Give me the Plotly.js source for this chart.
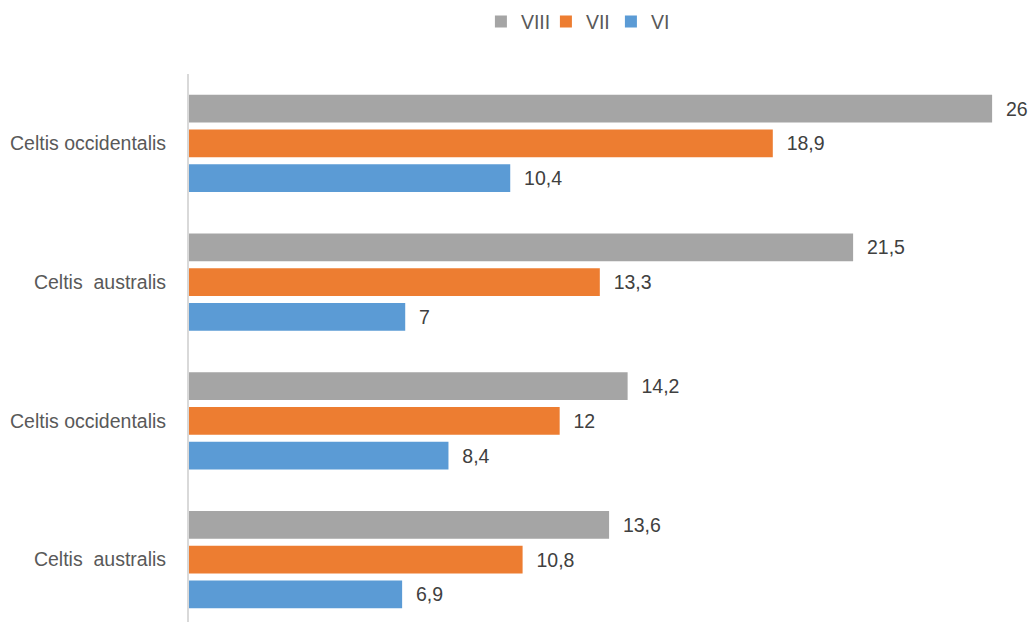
<!DOCTYPE html>
<html>
<head>
<meta charset="utf-8">
<script src="https://cdn.plot.ly/plotly-3.0.1.min.js"></script>
<style>
html,body{margin:0;padding:0;background:#fff;overflow:hidden;}
#chart{width:1032px;height:622px;}
</style>
</head>
<body>
<div id="chart"></div>
<script>
const categories = ["Celtis occidentalis", "Celtis  australis", "Celtis occidentalis", "Celtis  australis"];
const seriesNames = ["VIII", "VII", "VI"];
const valuesVIII = [26, 21.5, 14.2, 13.6];
const valuesVII = [18.9, 13.3, 12, 10.8];
const valuesVI = [10.4, 7, 8.4, 6.9];
const colors = ["#a5a5a5", "#ed7d31", "#5b9bd5"];

const FONT = '"Liberation Sans", Arial, sans-serif';
const FS = 19.5;
const positions = categories.map((c, i) => i);
const fmt = v => '\u00a0\u00a0' + String(v).replace('.', ',');

const allValues = [valuesVIII, valuesVII, valuesVI];
const traces = allValues.map((vals, k) => ({
  type: 'bar',
  orientation: 'h',
  name: seriesNames[k],
  x: vals,
  y: positions,
  marker: {color: colors[k]},
  text: vals.map(fmt),
  textposition: 'outside',
  cliponaxis: false,
  constraintext: 'none',
  textfont: {family: FONT, size: FS, color: '#404040'},
  hoverinfo: 'x+name'
}));

const layout = {
  width: 1032,
  height: 622,
  margin: {l: 189, r: 9, t: 74, b: 0},
  paper_bgcolor: '#ffffff',
  plot_bgcolor: '#ffffff',
  font: {family: FONT, size: FS, color: '#595959'},
  barmode: 'group',
  bargap: 0.25,
  bargroupgap: 0.2,
  showlegend: true,
  legend: {
    orientation: 'h',
    xref: 'container', yref: 'container',
    x: 0.466, xanchor: 'left',
    y: 0.965, yanchor: 'middle',
    entrywidth: 20,
    entrywidthmode: 'pixels',
    font: {family: FONT, size: FS, color: '#595959'},
    traceorder: 'normal'
  },
  xaxis: {
    range: [0, 27],
    showgrid: false,
    zeroline: false,
    showline: false,
    showticklabels: false,
    ticks: ''
  },
  yaxis: {
    range: [3.45, -0.5],
    tickvals: positions,
    ticktext: categories.map(c => c.replace(/  /g, '\u00a0 ')),
    showgrid: false,
    zeroline: false,
    showline: true,
    linecolor: '#d9d9d9',
    linewidth: 2,
    ticks: '',
    ticklabelstandoff: 17,
    tickfont: {family: FONT, size: FS, color: '#595959'}
  }
};

Plotly.newPlot('chart', traces, layout, {displayModeBar: false, staticPlot: true});
</script>
</body>
</html>
